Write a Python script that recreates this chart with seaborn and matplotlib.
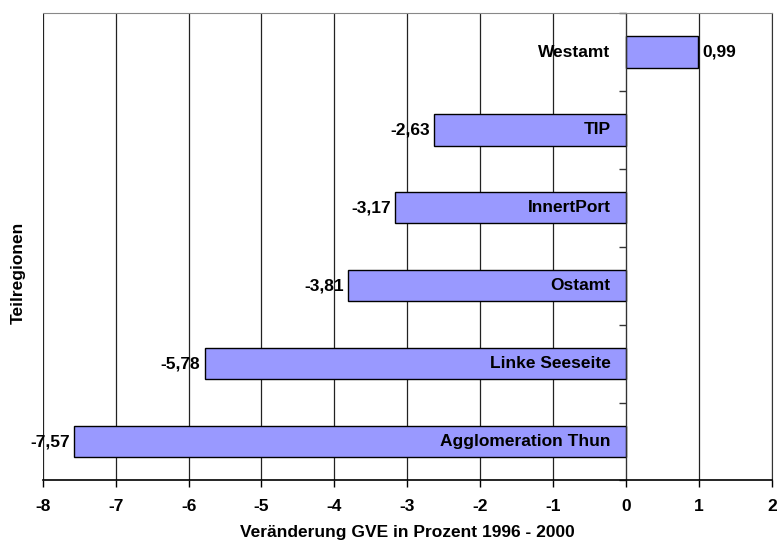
import pandas as pd
import matplotlib.pyplot as plt
import seaborn as sns

# ============ Data ============
regions = ["Westamt", "TIP", "InnertPort", "Ostamt", "Linke Seeseite", "Agglomeration Thun"]
change_pct = [0.99, -2.63, -3.17, -3.81, -5.78, -7.57]

df = pd.DataFrame({"region": regions, "change": change_pct})

# ============ Plot ============
sns.set_style("white", {"xtick.bottom": True, "ytick.left": True,
                        "text.color": "black", "axes.labelcolor": "black",
                        "xtick.color": "black", "ytick.color": "black"})
plt.rcParams["font.family"] = ["Liberation Sans", "DejaVu Sans"]
plt.rcParams["font.weight"] = "bold"

fig, ax = plt.subplots(figsize=(7.78, 5.46), dpi=100)
fig.subplots_adjust(left=0.055, right=0.992, top=0.976, bottom=0.12)

sns.barplot(data=df, x="change", y="region", orient="h", color="#9999FF",
            saturation=1, width=0.4, edgecolor="black", linewidth=1, ax=ax)

ax.set_xlim(-8, 2)
ax.set_ylim(len(regions) - 0.5, -0.5)
ax.set_xticks(range(-8, 3))
ax.set_xticklabels([str(v) for v in range(-8, 3)], fontsize=12.5, fontweight="bold")
ax.xaxis.grid(True, color="#222222", linewidth=0.9)
ax.set_axisbelow(True)

# y-axis sits on the zero line, ticks between categories
ax.spines["left"].set_position(("data", 0))
ax.set_yticks([i - 0.5 for i in range(len(regions) + 1)])
ax.set_yticklabels([])
ax.tick_params(axis="y", left=True, direction="out", length=5, width=1, color="#333333")
ax.tick_params(axis="x", bottom=True, direction="out", length=5, width=1, pad=8, color="black")
ax.spines["left"].set_color("#333333")
ax.spines["bottom"].set_color("black")
ax.spines["bottom"].set_linewidth(1.2)
ax.spines["top"].set_color("#888888")
ax.spines["right"].set_color("#333333")

for i, (name, val) in enumerate(zip(regions, change_pct)):
    # category label near the zero line
    ax.annotate(name, xy=(0, i), xytext=(-11, 0), textcoords="offset points",
                ha="right", va="center", fontsize=12.5, fontweight="bold", color="black")
    # value label at the bar end
    lbl = f"{val:.2f}".replace(".", ",")
    if val < 0:
        ax.annotate(lbl, xy=(val, i), xytext=(-3, 0), textcoords="offset points",
                    ha="right", va="center", fontsize=12.5, fontweight="bold", color="black")
    else:
        ax.annotate(lbl, xy=(val, i), xytext=(3, 0), textcoords="offset points",
                    ha="left", va="center", fontsize=12.5, fontweight="bold", color="black")

ax.set_xlabel("Veränderung GVE in Prozent 1996 - 2000", fontsize=12.5, fontweight="bold",
              labelpad=8, color="black")
ax.set_ylabel("")
fig.text(0.024, 0.5, "Teilregionen", rotation=90, ha="center", va="center",
         fontsize=12.5, fontweight="bold", color="black")

fig.savefig("out.png", dpi=100)
